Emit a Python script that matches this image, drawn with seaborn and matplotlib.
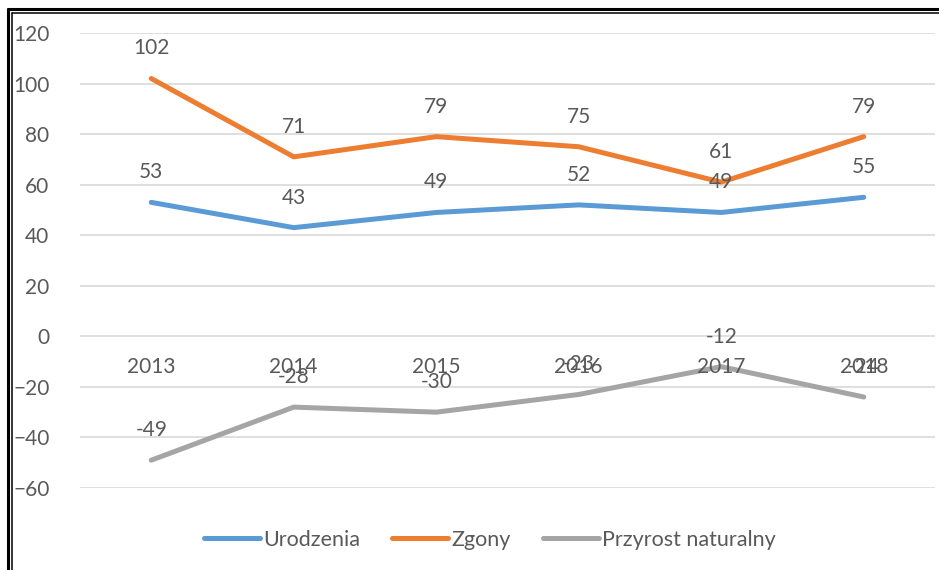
import pandas as pd
import seaborn as sns
import matplotlib.pyplot as plt
from matplotlib.lines import Line2D

# data
years = ['2013', '2014', '2015', '2016', '2017', '2018']
urodzenia = [53, 43, 49, 52, 49, 55]
zgony = [102, 71, 79, 75, 61, 79]
przyrost = [-49, -28, -30, -23, -12, -24]
series_names = ['Urodzenia', 'Zgony', 'Przyrost naturalny']
colors = ['#5B9BD5', '#ED7D31', '#A5A5A5']

df = pd.DataFrame({
    'rok': years * 3,
    'wartosc': urodzenia + zgony + przyrost,
    'seria': [s for s in series_names for _ in years],
})

sns.set_style('white')
plt.rcParams['font.family'] = ['Lato', 'DejaVu Sans']
txt = '#595959'

fig = plt.figure(figsize=(9.39, 5.70), dpi=100)
ax = fig.add_axes([80 / 939, 1 - 488 / 570, 855 / 939, 455 / 570])

sns.lineplot(data=df, x='rok', y='wartosc', hue='seria', palette=colors,
             linewidth=3.6, ax=ax, legend=False, sort=False)

ax.set_xlim(-0.5, len(years) - 0.5)
ax.set_ylim(-60, 120)
ax.set_yticks(range(-60, 121, 20))
ax.grid(axis='y', color='#D9D9D9', linewidth=1.2)
ax.set_axisbelow(True)
for sp in ax.spines.values():
    sp.set_visible(False)
ax.tick_params(axis='y', length=0, pad=22, labelsize=15, labelcolor=txt)
ax.set_xticks([])
ax.set_xlabel('')
ax.set_ylabel('')

# category labels sit at the zero line (Excel axis crossing)
for i, yr in enumerate(years):
    ax.annotate(yr, (i, 0), xytext=(0, -21), textcoords='offset pixels',
                ha='center', va='top', fontsize=15, color=txt)

# data labels above points
for vals in (urodzenia, zgony, przyrost):
    for i, v in enumerate(vals):
        ax.annotate(str(v), (i, v), xytext=(0, 20), textcoords='offset pixels',
                    ha='center', va='bottom', fontsize=15, color=txt)

handles = [Line2D([], [], color=c, linewidth=3.6) for c in colors]
ax.legend(handles, series_names, loc='center', bbox_to_anchor=(490 / 939, 1 - 540 / 570),
          bbox_transform=fig.transFigure, ncol=3, frameon=False, fontsize=15.5,
          labelcolor=txt, handlelength=2.6, handletextpad=0.15, columnspacing=1.5)

# double border on top and left
fig.add_artist(Line2D([8 / 939, 1], [1 - 9 / 570, 1 - 9 / 570], color='black', linewidth=2.2,
                      transform=fig.transFigure))
fig.add_artist(Line2D([8 / 939, 8 / 939], [0, 1 - 9 / 570], color='black', linewidth=2.2,
                      transform=fig.transFigure))
fig.add_artist(Line2D([11.5 / 939, 1], [1 - 12.5 / 570, 1 - 12.5 / 570], color='black', linewidth=1.1,
                      transform=fig.transFigure))
fig.add_artist(Line2D([11.5 / 939, 11.5 / 939], [0, 1 - 12.5 / 570], color='black', linewidth=1.1,
                      transform=fig.transFigure))

fig.savefig('out.png', dpi=100)
